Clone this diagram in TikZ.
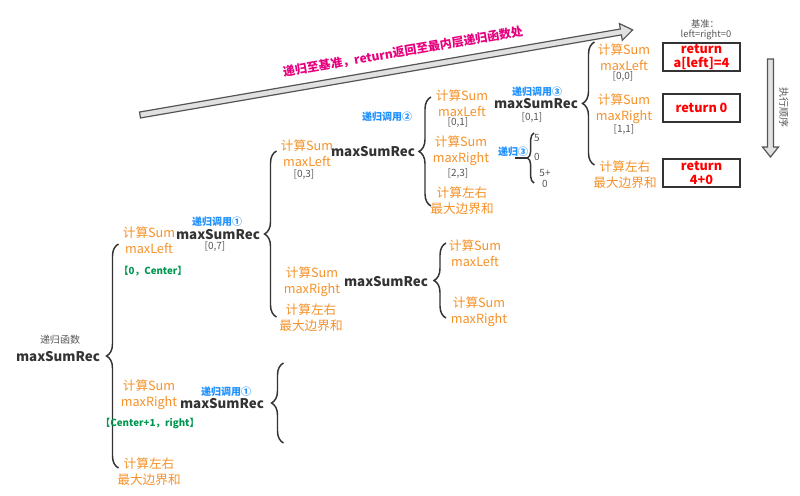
\documentclass[tikz,border=0pt]{standalone}
\usepackage{fontspec}
\setmainfont{Noto Sans CJK SC}
\usetikzlibrary{decorations.pathreplacing}
\definecolor{calcorange}{RGB}{245,145,40}
\definecolor{callblue}{RGB}{30,144,255}
\definecolor{partgreen}{RGB}{0,150,80}
\definecolor{fndark}{RGB}{51,51,51}
\definecolor{rnggray}{RGB}{85,85,85}
\definecolor{retred}{RGB}{255,0,0}
\definecolor{backpink}{RGB}{230,0,126}
\definecolor{arrowfill}{RGB}{225,225,225}
\begin{document}
\begin{tikzpicture}[x=0.75pt,y=-0.75pt,
  fname/.style={text=fndark,font=\bfseries\fontsize{10}{12}\selectfont,inner sep=0pt},
  calcs/.style={text=calcorange,font=\fontsize{9.5}{12}\selectfont,align=center,inner sep=0pt},
  callno/.style={text=callblue,font=\bfseries\fontsize{7.5}{9}\selectfont,inner sep=0pt},
  rng/.style={text=rnggray,font=\fontsize{7.5}{9}\selectfont,inner sep=0pt},
  part/.style={text=partgreen,font=\bfseries\fontsize{7.3}{9}\selectfont,inner sep=0pt},
  retbox/.style={draw=fndark,line width=1.2pt,text=retred,font=\bfseries\fontsize{9.5}{11}\selectfont,align=center,minimum width=57.75pt,minimum height=21pt,inner sep=0pt},
  mbrace/.style={draw=fndark,line width=1.1pt,decorate,decoration={brace,amplitude=9pt}},
  hollow/.style={draw=rnggray,fill=arrowfill,line width=0.9pt,line join=miter}]
  \useasboundingbox (0,0) rectangle (800,496);

  %return arrow
  \begin{scope}[shift={(140,115)},rotate=9.8]
    \draw[hollow] (0,-3) -- (488,-3) -- (488,-8.5) -- (500,0) -- (488,8.5) -- (488,3) -- (0,3) -- cycle;
  \end{scope}
  \node[text=backpink,font=\bfseries\fontsize{9}{11}\selectfont,rotate=9.8,inner sep=0pt] (backlbl) at (403,52) {递归至基准，return返回至最内层递归函数处};

  %order arrow
  \begin{scope}[shift={(770.5,59)},rotate=-90]
    \draw[hollow] (0,-3) -- (88,-3) -- (88,-8) -- (98,0) -- (88,8) -- (88,3) -- (0,3) -- cycle;
  \end{scope}
  \node[rng,font=\fontsize{7.5}{9}\selectfont,rotate=-90] (order) at (784,107) {执行顺序};

  %root
  \node[rng] (rootlbl) at (60,340) {递归函数};
  \node[fname] (root) at (58,357) {maxSumRec};
  \coordinate (rootT) at (118.5,244);
  \coordinate (rootB) at (118.5,468);
  \draw[mbrace] (rootB) -- (rootT);
  \node[calcs] (rootL) at (149,240) {计算Sum\\maxLeft};
  \node[part] (rootLp) at (153,271) {【0，Center】};
  \node[calcs] (rootR) at (149,395) {计算Sum\\maxRight};
  \node[part] (rootRp) at (150,423) {【Center+1，right】};
  \node[calcs] (rootM) at (149,472) {计算左右\\最大边界和};

  %level 1 top
  \node[callno] (callA) at (217,222) {递归调用①};
  \node[fname] (recA) at (218,234.5) {maxSumRec};
  \node[rng] (rngA) at (215,246) {[0,7]};
  \coordinate (recAT) at (276.5,151);
  \coordinate (recAB) at (276.5,317);
  \draw[mbrace] (recAB) -- (recAT);
  \node[calcs] (recAL) at (307,153) {计算Sum\\maxLeft};
  \node[rng] (recALr) at (304,174) {[0,3]};
  \node[calcs] (recAR) at (312,281.5) {计算Sum\\maxRight};
  \node[calcs] (recAM) at (311,317.5) {计算左右\\最大边界和};

  %level 1 bottom
  \node[callno] (callB) at (226,392) {递归调用①};
  \node[fname] (recB) at (222,404) {maxSumRec};
  \coordinate (recBT) at (283.5,363);
  \coordinate (recBB) at (283.5,443);
  \draw[mbrace] (recBB) -- (recBT);

  %level 2 top
  \node[callno] (callC) at (387,117) {递归调用②};
  \node[fname] (recC) at (373,152) {maxSumRec};
  \coordinate (recCT) at (431,97);
  \coordinate (recCB) at (431,206);
  \draw[mbrace] (recCB) -- (recCT);
  \node[calcs] (recCL) at (462,103) {计算Sum\\maxLeft};
  \node[rng] (recCLr) at (458,122) {[0,1]};
  \node[calcs] (recCR) at (461,151) {计算Sum\\maxRight};
  \node[rng] (recCRr) at (458,173) {[2,3]};
  \node[calcs] (recCM) at (462,200.5) {计算左右\\最大边界和};

  %level 2 bottom
  \node[fname] (recD) at (386,282) {maxSumRec};
  \coordinate (recDT) at (446,243);
  \coordinate (recDB) at (446,318);
  \draw[mbrace] (recDB) -- (recDT);
  \node[calcs] (recDL) at (475,253.5) {计算Sum\\maxLeft};
  \node[calcs] (recDR) at (479,311.5) {计算Sum\\maxRight};

  %small brace
  \node[callno] (callS) at (513,152) {递归③};
  \coordinate (smT) at (534,133);
  \coordinate (smB) at (534,183);
  \coordinate (smTip) at (527,158);
  \coordinate (smEnd) at (515,158);
  \draw[mbrace,decoration={brace,amplitude=5pt}] (smB) -- (smT);
  \draw[draw=fndark,line width=1.1pt] (smTip) -- (smEnd);
  \node[rng] (sm1) at (537,138) {5};
  \node[rng] (sm2) at (537,157) {0};
  \node[rng] (sm3) at (545,173) {5+};
  \node[rng] (sm4) at (545,184) {0};

  %level 3
  \node[callno] (callE) at (537,92) {递归调用③};
  \node[fname] (recE) at (536,104) {maxSumRec};
  \node[rng] (rngE) at (532,117) {[0,1]};
  \coordinate (recET) at (594.5,42);
  \coordinate (recEB) at (594.5,165);
  \draw[mbrace] (recEB) -- (recET);
  \node[calcs] (recEL) at (624,57) {计算Sum\\maxLeft};
  \node[rng] (recELr) at (623,76) {[0,0]};
  \node[calcs] (recER) at (624,108.5) {计算Sum\\maxRight};
  \node[rng] (recERr) at (624,129) {[1,1]};
  \node[calcs] (recEM) at (625,175) {计算左右\\最大边界和};

  %base case
  \node[rng,font=\fontsize{7}{9}\selectfont] (basel) at (705,24) {基准：};
  \node[rng,font=\fontsize{7}{9}\selectfont] (basev) at (706,35) {left=right=0};
  \node[retbox] (retL) at (701.5,57) {return\\a[left]=4};
  \node[retbox] (retR) at (701.5,108) {return 0};
  \node[retbox] (retM) at (701.5,173) {return\\4+0};
\end{tikzpicture}
\end{document}
